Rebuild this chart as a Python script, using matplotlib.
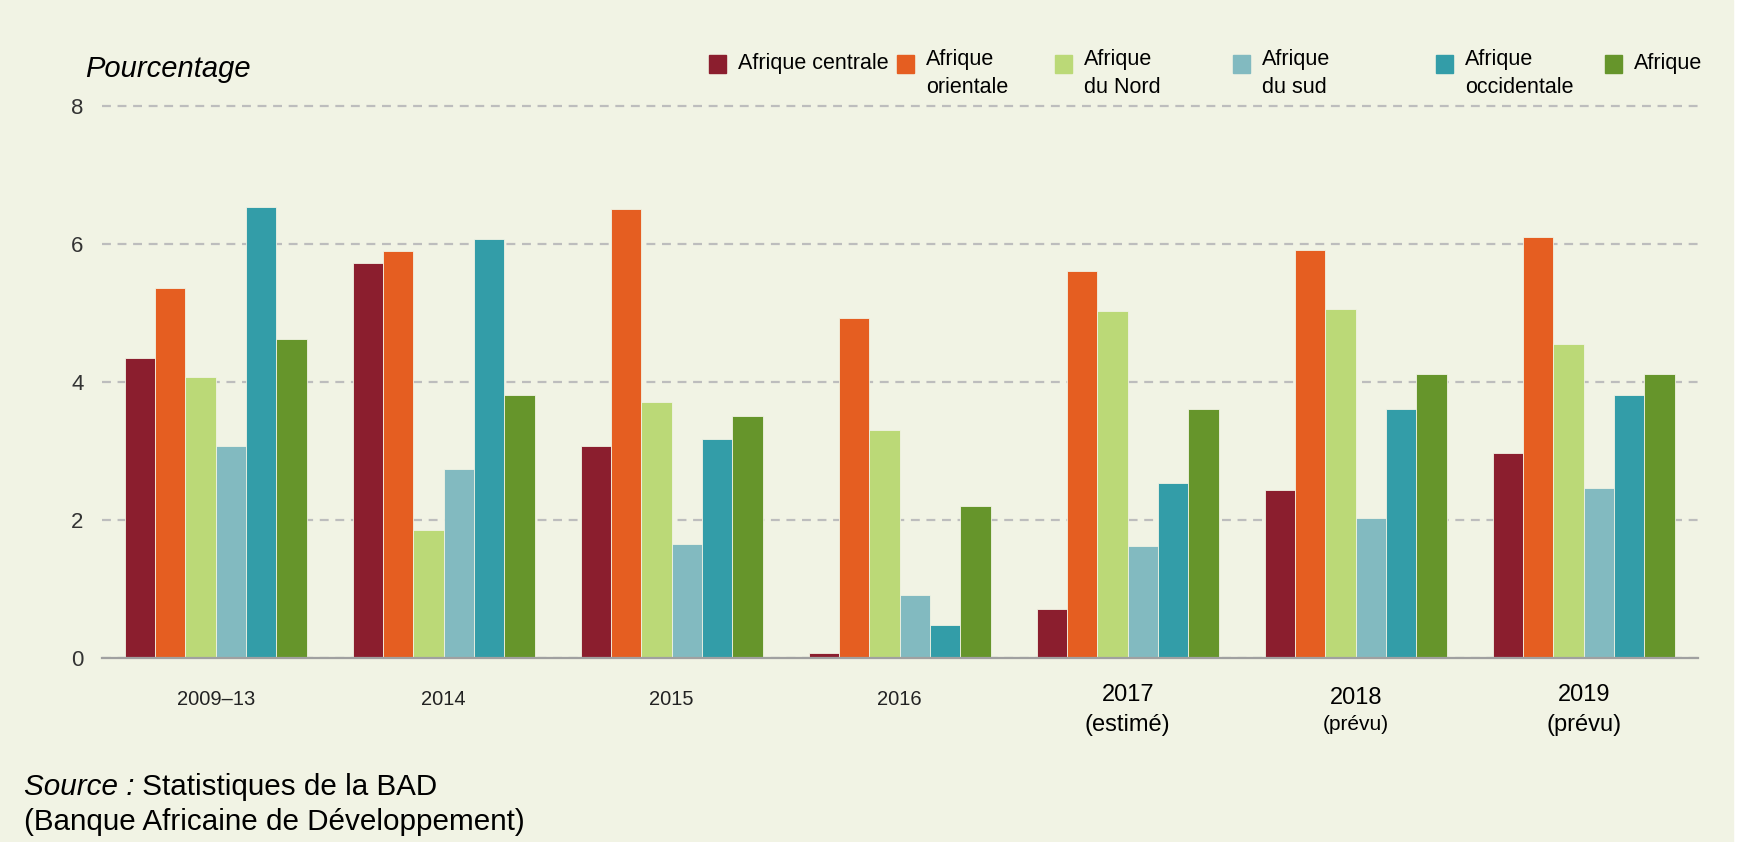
import matplotlib.pyplot as plt
import numpy as np
from matplotlib.patches import Rectangle

# data
years = ['2009–13', '2014', '2015', '2016', '2017', '2018', '2019']
notes = ['', '', '', '', '(estimé)', '(prévu)', '(prévu)']
regions = ['Afrique centrale', 'Afrique\norientale', 'Afrique\ndu Nord',
           'Afrique\ndu sud', 'Afrique\noccidentale', 'Afrique']
centrale = [4.35, 5.73, 3.08, 0.08, 0.72, 2.44, 2.97]
orientale = [5.36, 5.90, 6.51, 4.93, 5.61, 5.91, 6.11]
nord = [4.08, 1.86, 3.72, 3.31, 5.03, 5.06, 4.55]
sud = [3.07, 2.74, 1.66, 0.91, 1.63, 2.03, 2.47]
occidentale = [6.54, 6.07, 3.18, 0.48, 2.54, 3.61, 3.82]
afrique = [4.62, 3.81, 3.51, 2.20, 3.61, 4.12, 4.12]
series = [centrale, orientale, nord, sud, occidentale, afrique]
colors = ['#8B1E2E', '#E55E21', '#BBD977', '#82BAC0', '#339DA8', '#66952B']

bg = '#F1F3E4'
W, H = 1738, 842
arial = ['Liberation Sans', 'DejaVu Sans']

fig = plt.figure(figsize=(W / 100, H / 100), dpi=100, facecolor='white')
fig.add_artist(Rectangle((0, 0), 1733 / W, 1, transform=fig.transFigure,
                         color=bg, zorder=-10))

ax = fig.add_axes([101.7 / W, 1 - 658.3 / H, 1596 / W, 554.3 / H])
ax.set_facecolor('none')

x = np.arange(len(years))
bw = 0.133
for k, (vals, c) in enumerate(zip(series, colors)):
    ax.bar(x + (k - 2.5) * bw, vals, bw, color=c, edgecolor=bg,
           linewidth=0.6, zorder=3)

ax.set_xlim(-0.5, 6.5)
ax.set_ylim(0, 8.03)
ax.set_yticks([0, 2, 4, 6, 8])
ax.set_xticks([])
ax.tick_params(axis='y', length=0, pad=13, labelsize=16, labelcolor='#333333')
for lab in ax.get_yticklabels():
    lab.set_family(arial)
ax.yaxis.grid(True, linestyle=(0, (4, 3)), color='#BDBDBD', linewidth=1.6)
ax.set_axisbelow(True)
for s in ['top', 'right', 'left']:
    ax.spines[s].set_visible(False)
ax.spines['bottom'].set_color('#A0A0A0')
ax.spines['bottom'].set_linewidth(1.6)
ax.spines['bottom'].set_zorder(4)

# category labels under the groups
for i, (yr, nt) in enumerate(zip(years, notes)):
    if nt == '':
        ax.annotate(yr, xy=(i, 0), xycoords=('data', 'axes fraction'),
                    xytext=(0, -30), textcoords='offset points', ha='center',
                    va='center', fontsize=14.5, color='#222222', family=arial)
    else:
        small = 15 if yr == '2018' else 17
        dy = -28.5 if yr == '2018' else -26.5
        ax.annotate(yr, xy=(i, 0), xycoords=('data', 'axes fraction'),
                    xytext=(0, dy), textcoords='offset points', ha='center',
                    va='center', fontsize=17, color='black', family=arial)
        ax.annotate(nt, xy=(i, 0), xycoords=('data', 'axes fraction'),
                    xytext=(0, -48), textcoords='offset points',
                    ha='center', va='center', fontsize=small, color='black',
                    family=arial)

# legend drawn by hand to keep the uneven spacing
legend_x = [709, 897, 1055, 1233, 1436, 1605]
for lx, name, c in zip(legend_x, regions, colors):
    fig.add_artist(Rectangle((lx / W, 1 - 73 / H), 17 / W, 18 / H,
                             transform=fig.transFigure, color=c))
    if '\n' in name:
        fig.text((lx + 29) / W, 1 - 49 / H, name, ha='left', va='top',
                 fontsize=15.5, family=arial, linespacing=1.45)
    else:
        fig.text((lx + 29) / W, 1 - 64 / H, name, ha='left', va='center',
                 fontsize=15.5, family=arial)

fig.text(85 / W, 1 - 69 / H, 'Pourcentage', ha='left', va='center',
         fontsize=21, style='italic', family=arial)

src = fig.text(24 / W, 1 - 787 / H, 'Source :', ha='left', va='center',
               fontsize=21.3, style='italic', family=arial)
ax.annotate(' Statistiques de la BAD', xy=(1, 0.5), xycoords=src,
            ha='left', va='center', fontsize=21.3, family=arial,
            annotation_clip=False)
fig.text(24 / W, 1 - 822 / H, '(Banque Africaine de Développement)',
         ha='left', va='center', fontsize=21.3, family=arial)

fig.savefig('out.png', dpi=100, facecolor=fig.get_facecolor())
